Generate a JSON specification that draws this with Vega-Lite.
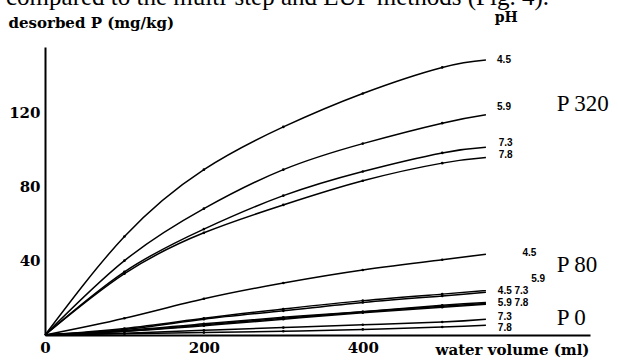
{
  "$schema": "https://vega.github.io/schema/vega-lite/v6.json",
  "width": 545,
  "height": 288,
  "autosize": {"type": "none"},
  "padding": {"left": 45, "top": 47, "right": 28, "bottom": 29},
  "background": "white",
  "config": {"view": {"stroke": null}},
  "title": {
    "text": "compared to the multi-step and EUF methods (Fig. 4).",
    "anchor": "start",
    "frame": "group",
    "orient": "top",
    "baseline": "alphabetic",
    "offset": 0,
    "dy": 19,
    "dx": -39,
    "font": "Liberation Serif",
    "fontSize": 25,
    "fontWeight": "normal",
    "color": "black"
  },
  "datasets": {
    "curves": [
      {"s": "P320-4.5", "x": 0, "y": 0}, {"s": "P320-4.5", "x": 100, "y": 53}, {"s": "P320-4.5", "x": 200, "y": 89}, {"s": "P320-4.5", "x": 300, "y": 112}, {"s": "P320-4.5", "x": 400, "y": 130}, {"s": "P320-4.5", "x": 500, "y": 144}, {"s": "P320-4.5", "x": 555, "y": 148},
      {"s": "P320-5.9", "x": 0, "y": 0}, {"s": "P320-5.9", "x": 100, "y": 40}, {"s": "P320-5.9", "x": 200, "y": 68}, {"s": "P320-5.9", "x": 300, "y": 89}, {"s": "P320-5.9", "x": 400, "y": 103}, {"s": "P320-5.9", "x": 500, "y": 114}, {"s": "P320-5.9", "x": 555, "y": 118.5},
      {"s": "P320-7.3", "x": 0, "y": 0}, {"s": "P320-7.3", "x": 100, "y": 34}, {"s": "P320-7.3", "x": 200, "y": 57}, {"s": "P320-7.3", "x": 300, "y": 75}, {"s": "P320-7.3", "x": 400, "y": 88}, {"s": "P320-7.3", "x": 500, "y": 98}, {"s": "P320-7.3", "x": 555, "y": 101},
      {"s": "P320-7.8", "x": 0, "y": 0}, {"s": "P320-7.8", "x": 100, "y": 33}, {"s": "P320-7.8", "x": 200, "y": 55}, {"s": "P320-7.8", "x": 300, "y": 70}, {"s": "P320-7.8", "x": 400, "y": 83}, {"s": "P320-7.8", "x": 500, "y": 92.5}, {"s": "P320-7.8", "x": 555, "y": 95.5},
      {"s": "P80-4.5", "x": 0, "y": 0}, {"s": "P80-4.5", "x": 100, "y": 9}, {"s": "P80-4.5", "x": 200, "y": 19.5}, {"s": "P80-4.5", "x": 300, "y": 28}, {"s": "P80-4.5", "x": 400, "y": 35}, {"s": "P80-4.5", "x": 500, "y": 40.5}, {"s": "P80-4.5", "x": 555, "y": 43.5},
      {"s": "P80-5.9", "x": 0, "y": 0}, {"s": "P80-5.9", "x": 100, "y": 3.5}, {"s": "P80-5.9", "x": 200, "y": 9}, {"s": "P80-5.9", "x": 300, "y": 14}, {"s": "P80-5.9", "x": 400, "y": 18.5}, {"s": "P80-5.9", "x": 500, "y": 22}, {"s": "P80-5.9", "x": 555, "y": 24},
      {"s": "P80-7.3", "x": 0, "y": 0}, {"s": "P80-7.3", "x": 100, "y": 3}, {"s": "P80-7.3", "x": 200, "y": 8.5}, {"s": "P80-7.3", "x": 300, "y": 13}, {"s": "P80-7.3", "x": 400, "y": 17.5}, {"s": "P80-7.3", "x": 500, "y": 21}, {"s": "P80-7.3", "x": 555, "y": 23},
      {"s": "P80-7.8", "x": 0, "y": 0}, {"s": "P80-7.8", "x": 100, "y": 2.5}, {"s": "P80-7.8", "x": 200, "y": 6}, {"s": "P80-7.8", "x": 300, "y": 9.5}, {"s": "P80-7.8", "x": 400, "y": 12.5}, {"s": "P80-7.8", "x": 500, "y": 15.5}, {"s": "P80-7.8", "x": 555, "y": 17},
      {"s": "P0-4.5", "x": 0, "y": 0}, {"s": "P0-4.5", "x": 100, "y": 2}, {"s": "P0-4.5", "x": 200, "y": 5.5}, {"s": "P0-4.5", "x": 300, "y": 9}, {"s": "P0-4.5", "x": 400, "y": 12.5}, {"s": "P0-4.5", "x": 500, "y": 16}, {"s": "P0-4.5", "x": 555, "y": 17.5},
      {"s": "P0-5.9", "x": 0, "y": 0}, {"s": "P0-5.9", "x": 100, "y": 2}, {"s": "P0-5.9", "x": 200, "y": 5}, {"s": "P0-5.9", "x": 300, "y": 8.5}, {"s": "P0-5.9", "x": 400, "y": 12}, {"s": "P0-5.9", "x": 500, "y": 15}, {"s": "P0-5.9", "x": 555, "y": 16.5},
      {"s": "P0-7.3", "x": 0, "y": 0}, {"s": "P0-7.3", "x": 100, "y": 1}, {"s": "P0-7.3", "x": 200, "y": 2.5}, {"s": "P0-7.3", "x": 300, "y": 4}, {"s": "P0-7.3", "x": 400, "y": 5.5}, {"s": "P0-7.3", "x": 500, "y": 7}, {"s": "P0-7.3", "x": 555, "y": 8.5},
      {"s": "P0-7.8", "x": 0, "y": 0}, {"s": "P0-7.8", "x": 100, "y": 0.7}, {"s": "P0-7.8", "x": 200, "y": 1.3}, {"s": "P0-7.8", "x": 300, "y": 2}, {"s": "P0-7.8", "x": 400, "y": 3}, {"s": "P0-7.8", "x": 500, "y": 4.3}, {"s": "P0-7.8", "x": 555, "y": 5.3}
    ],
    "phlabels": [
      {"x": 569, "y": 148, "t": "4.5"},
      {"x": 569, "y": 122.7, "t": "5.9"},
      {"x": 571, "y": 103.3, "t": "7.3"},
      {"x": 571, "y": 96.9, "t": "7.8"},
      {"x": 601, "y": 44.1, "t": "4.5"},
      {"x": 612, "y": 30.3, "t": "5.9"},
      {"x": 570, "y": 23.7, "t": "4.5 7.3"},
      {"x": 570, "y": 17.3, "t": "5.9 7.8"},
      {"x": 570, "y": 9.9, "t": "7.3"},
      {"x": 570, "y": 4.0, "t": "7.8"}
    ],
    "plabels": [
      {"x": 644, "y": 124.3, "t": "P 320"},
      {"x": 644, "y": 37.7, "t": "P 80"},
      {"x": 644, "y": 9.1, "t": "P 0"}
    ],
    "phhead": [
      {"x": 566, "y": 170.6, "t": "pH"}
    ]
  },
  "encoding": {
    "x": {
      "field": "x",
      "type": "quantitative",
      "scale": {"domain": [0, 686], "nice": false, "zero": false},
      "axis": {
        "values": [0, 200, 400],
        "ticks": false,
        "grid": false,
        "domainColor": "black",
        "domainWidth": 2,
        "labelFont": "DejaVu Serif",
        "labelFontWeight": "bold",
        "labelFontSize": 15,
        "labelColor": "black",
        "labelPadding": 5,
        "labelFlush": false,
        "title": "water volume  (ml)",
        "titleFont": "DejaVu Serif",
        "titleFontWeight": "bold",
        "titleFontSize": 15,
        "titleColor": "black",
        "titleAlign": "left",
        "titleAnchor": "start",
        "titleBaseline": "alphabetic",
        "titleX": 390,
        "titleY": 19
      }
    },
    "y": {
      "field": "y",
      "type": "quantitative",
      "scale": {"domain": [0, 155], "nice": false, "zero": false},
      "axis": {
        "values": [40, 80, 120],
        "ticks": false,
        "grid": false,
        "domainColor": "black",
        "domainWidth": 2,
        "labelFont": "DejaVu Serif",
        "labelFontWeight": "bold",
        "labelFontSize": 15,
        "labelColor": "black",
        "labelPadding": 5,
        "title": "desorbed P  (mg/kg)",
        "titleFont": "DejaVu Serif",
        "titleFontWeight": "bold",
        "titleFontSize": 15,
        "titleColor": "black",
        "titleAngle": 0,
        "titleAlign": "left",
        "titleAnchor": "start",
        "titleBaseline": "alphabetic",
        "titleX": -37,
        "titleY": -20
      }
    }
  },
  "layer": [
    {
      "data": {"name": "curves"},
      "mark": {"type": "line", "interpolate": "natural", "color": "black", "strokeWidth": 1.5},
      "encoding": {"detail": {"field": "s", "type": "nominal"}}
    },
    {
      "data": {"name": "curves"},
      "transform": [{"filter": "datum.x > 0 && datum.x < 550"}],
      "mark": {"type": "circle", "size": 7, "color": "black", "opacity": 1}
    },
    {
      "data": {"name": "phlabels"},
      "mark": {"type": "text", "align": "left", "baseline": "middle", "font": "Liberation Sans", "fontSize": 10, "fontWeight": "bold", "color": "black"},
      "encoding": {"text": {"field": "t"}}
    },
    {
      "data": {"name": "plabels"},
      "mark": {"type": "text", "align": "left", "baseline": "middle", "font": "Liberation Serif", "fontSize": 23, "color": "black"},
      "encoding": {"text": {"field": "t"}}
    },
    {
      "data": {"name": "phhead"},
      "mark": {"type": "text", "align": "left", "baseline": "middle", "font": "DejaVu Serif", "fontSize": 14, "fontWeight": "bold", "color": "black"},
      "encoding": {"text": {"field": "t"}}
    }
  ]
}
